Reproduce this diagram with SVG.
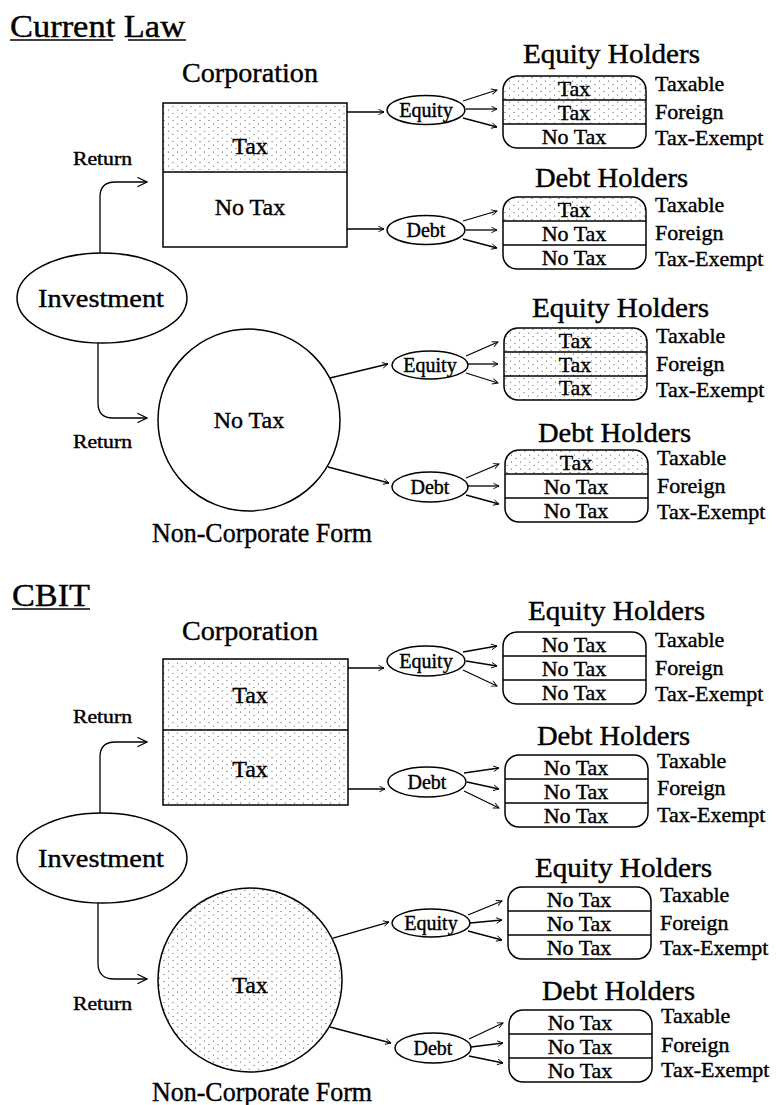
<svg xmlns="http://www.w3.org/2000/svg" width="778" height="1105" viewBox="0 0 778 1105">
<style>
text{font-family:"Liberation Serif","Times New Roman",serif;fill:#000;stroke:#000;stroke-width:0.4}
.ttl{font-size:31px}
.hdr{font-size:27px}
.big{font-size:24px;text-anchor:middle}
.inv{font-size:26px;text-anchor:middle}
.ret{font-size:18px}
.ov{font-size:20px;text-anchor:middle}
.row{font-size:22px;text-anchor:middle}
.lbl{font-size:22px}
.ln{fill:none;stroke:#000;stroke-width:1.3}
.sh{fill:url(#dots)}
.ol{fill:none;stroke:#000;stroke-width:1.5}
.wf{fill:#fff;stroke:#000;stroke-width:1.5}
</style>
<defs>
<pattern id="dots" width="9" height="7" patternUnits="userSpaceOnUse">
<rect width="9" height="7" fill="#fff"/>
<circle cx="2" cy="1.5" r="0.6" fill="#444"/>
<circle cx="6.5" cy="5" r="0.6" fill="#444"/>
</pattern>
<clipPath id="stk"><rect x="0" y="0" width="143" height="72" rx="14"/></clipPath>
<marker id="ah" viewBox="0 0 10 10" refX="9" refY="5" markerWidth="7" markerHeight="7" orient="auto" markerUnits="userSpaceOnUse"><path d="M1,1 L9,5 L1,9" fill="none" stroke="#000" stroke-width="1.3"/></marker>
<marker id="ahb" viewBox="0 0 10 10" refX="9" refY="5" markerWidth="12" markerHeight="12" orient="auto" markerUnits="userSpaceOnUse"><path d="M1,1 L9,5 L1,9" fill="none" stroke="#000" stroke-width="1"/></marker>
</defs>
<rect width="778" height="1105" fill="#fff"/>

<!-- ===== Current Law ===== -->
<g id="title-current">
<text class="ttl" x="10" y="37" textLength="175" lengthAdjust="spacingAndGlyphs">Current Law</text>
<line x1="10" y1="40" x2="113" y2="40" stroke="#000" stroke-width="1.5"/>
<line x1="128" y1="40" x2="186" y2="40" stroke="#000" stroke-width="1.5"/>
</g>
<g id="cl-corp">
<text class="hdr" x="250" y="82" text-anchor="middle" textLength="136" lengthAdjust="spacingAndGlyphs">Corporation</text>
<rect class="sh" x="163" y="103" width="184" height="69"/>
<rect class="ol" x="163" y="103" width="184" height="144"/>
<line x1="163" y1="172" x2="347" y2="172" stroke="#000" stroke-width="1.5"/>
<text class="big" x="250" y="154">Tax</text>
<text class="big" x="250" y="215">No Tax</text>
</g>
<g id="cl-invest">
<ellipse class="wf" cx="102" cy="298" rx="85" ry="45"/>
<text class="inv" x="101" y="307" textLength="126" lengthAdjust="spacingAndGlyphs">Investment</text>
</g>
<g id="cl-noncorp">
<circle class="wf" cx="249" cy="420" r="91"/>
<text class="big" x="249" y="428">No Tax</text>
<text class="hdr" x="262" y="542" text-anchor="middle" font-size="24" textLength="220" lengthAdjust="spacingAndGlyphs">Non-Corporate Form</text>
</g>

<!-- ===== CBIT ===== -->
<g id="title-cbit">
<text class="ttl" x="12" y="606" textLength="78" lengthAdjust="spacingAndGlyphs">CBIT</text>
<line x1="12" y1="609" x2="90" y2="609" stroke="#000" stroke-width="1.5"/>
</g>
<g id="cb-corp">
<text class="hdr" x="250" y="640" text-anchor="middle" textLength="136" lengthAdjust="spacingAndGlyphs">Corporation</text>
<rect class="sh" x="163" y="659" width="185" height="146"/>
<rect class="ol" x="163" y="659" width="185" height="146"/>
<line x1="163" y1="730" x2="348" y2="730" stroke="#000" stroke-width="1.5"/>
<text class="big" x="250" y="703">Tax</text>
<text class="big" x="250" y="777">Tax</text>
</g>
<g id="cb-invest">
<ellipse class="wf" cx="102" cy="858" rx="85" ry="45"/>
<text class="inv" x="101" y="867" textLength="126" lengthAdjust="spacingAndGlyphs">Investment</text>
</g>
<g id="cb-noncorp">
<circle class="sh" cx="250" cy="980" r="92"/>
<circle class="ol" cx="250" cy="980" r="92"/>
<text class="big" x="250" y="993">Tax</text>
<text class="hdr" x="262" y="1101" text-anchor="middle" font-size="24" textLength="220" lengthAdjust="spacingAndGlyphs">Non-Corporate Form</text>
</g>

<!-- ===== Holder groups ===== -->
<g id="cl-eq1">
<ellipse class="wf" cx="426" cy="110" rx="39" ry="14.5"/>
<text class="ov" x="426" y="117">Equity</text>
<text class="hdr" x="523" y="63" textLength="177" lengthAdjust="spacingAndGlyphs">Equity Holders</text>
<g transform="translate(503,76)">
<rect class="sh" x="0" y="0" width="143" height="24" clip-path="url(#stk)"/>
<rect class="sh" x="0" y="24" width="143" height="24" clip-path="url(#stk)"/>
<rect class="ol" x="0" y="0" width="143" height="72" rx="14"/>
<line x1="0" y1="24" x2="143" y2="24" stroke="#000" stroke-width="1.3"/>
<line x1="0" y1="48" x2="143" y2="48" stroke="#000" stroke-width="1.3"/>
<text class="row" x="71" y="20">Tax</text><text class="row" x="71" y="44">Tax</text><text class="row" x="71" y="68">No Tax</text>
<text class="lbl" x="152" y="15">Taxable</text><text class="lbl" x="152" y="43">Foreign</text><text class="lbl" x="152" y="69">Tax-Exempt</text>
</g>
</g>
<g id="cl-debt1">
<ellipse class="wf" cx="426" cy="230" rx="39" ry="14.5"/>
<text class="ov" x="426" y="237">Debt</text>
<text class="hdr" x="535" y="187" textLength="153" lengthAdjust="spacingAndGlyphs">Debt Holders</text>
<g transform="translate(503,197)">
<rect class="sh" x="0" y="0" width="143" height="24" clip-path="url(#stk)"/>
<rect class="ol" x="0" y="0" width="143" height="72" rx="14"/>
<line x1="0" y1="24" x2="143" y2="24" stroke="#000" stroke-width="1.3"/>
<line x1="0" y1="48" x2="143" y2="48" stroke="#000" stroke-width="1.3"/>
<text class="row" x="71" y="20">Tax</text><text class="row" x="71" y="44">No Tax</text><text class="row" x="71" y="68">No Tax</text>
<text class="lbl" x="152" y="15">Taxable</text><text class="lbl" x="152" y="43">Foreign</text><text class="lbl" x="152" y="69">Tax-Exempt</text>
</g>
</g>
<g id="cl-eq2">
<ellipse class="wf" cx="430" cy="365" rx="38" ry="14"/>
<text class="ov" x="430" y="372">Equity</text>
<text class="hdr" x="532" y="317" textLength="177" lengthAdjust="spacingAndGlyphs">Equity Holders</text>
<g transform="translate(504,328)">
<rect class="sh" x="0" y="0" width="143" height="72" clip-path="url(#stk)"/>
<rect class="ol" x="0" y="0" width="143" height="72" rx="14"/>
<line x1="0" y1="24" x2="143" y2="24" stroke="#000" stroke-width="1.3"/>
<line x1="0" y1="48" x2="143" y2="48" stroke="#000" stroke-width="1.3"/>
<text class="row" x="71" y="20">Tax</text><text class="row" x="71" y="44">Tax</text><text class="row" x="71" y="67">Tax</text>
<text class="lbl" x="152" y="15">Taxable</text><text class="lbl" x="152" y="43">Foreign</text><text class="lbl" x="152" y="69">Tax-Exempt</text>
</g>
</g>
<g id="cl-debt2">
<ellipse class="wf" cx="430" cy="487" rx="38" ry="15"/>
<text class="ov" x="430" y="494">Debt</text>
<text class="hdr" x="538" y="442" textLength="153" lengthAdjust="spacingAndGlyphs">Debt Holders</text>
<g transform="translate(505,450)">
<rect class="sh" x="0" y="0" width="143" height="24" clip-path="url(#stk)"/>
<rect class="ol" x="0" y="0" width="143" height="72" rx="14"/>
<line x1="0" y1="24" x2="143" y2="24" stroke="#000" stroke-width="1.3"/>
<line x1="0" y1="48" x2="143" y2="48" stroke="#000" stroke-width="1.3"/>
<text class="row" x="71" y="20">Tax</text><text class="row" x="71" y="44">No Tax</text><text class="row" x="71" y="68">No Tax</text>
<text class="lbl" x="152" y="15">Taxable</text><text class="lbl" x="152" y="43">Foreign</text><text class="lbl" x="152" y="69">Tax-Exempt</text>
</g>
</g>
<g id="cb-eq1">
<ellipse class="wf" cx="426" cy="661" rx="39" ry="15"/>
<text class="ov" x="426" y="668">Equity</text>
<text class="hdr" x="528" y="620" textLength="177" lengthAdjust="spacingAndGlyphs">Equity Holders</text>
<g transform="translate(503,632)">
<rect class="ol" x="0" y="0" width="143" height="72" rx="14"/>
<line x1="0" y1="24" x2="143" y2="24" stroke="#000" stroke-width="1.3"/>
<line x1="0" y1="48" x2="143" y2="48" stroke="#000" stroke-width="1.3"/>
<text class="row" x="71" y="20">No Tax</text><text class="row" x="71" y="44">No Tax</text><text class="row" x="71" y="68">No Tax</text>
<text class="lbl" x="152" y="15">Taxable</text><text class="lbl" x="152" y="43">Foreign</text><text class="lbl" x="152" y="69">Tax-Exempt</text>
</g>
</g>
<g id="cb-debt1">
<ellipse class="wf" cx="427" cy="782" rx="39" ry="15"/>
<text class="ov" x="427" y="789">Debt</text>
<text class="hdr" x="537" y="745" textLength="153" lengthAdjust="spacingAndGlyphs">Debt Holders</text>
<g transform="translate(505,755)">
<rect class="ol" x="0" y="0" width="143" height="72" rx="14"/>
<line x1="0" y1="24" x2="143" y2="24" stroke="#000" stroke-width="1.3"/>
<line x1="0" y1="48" x2="143" y2="48" stroke="#000" stroke-width="1.3"/>
<text class="row" x="71" y="20">No Tax</text><text class="row" x="71" y="44">No Tax</text><text class="row" x="71" y="68">No Tax</text>
<text class="lbl" x="152" y="13">Taxable</text><text class="lbl" x="152" y="40">Foreign</text><text class="lbl" x="152" y="67">Tax-Exempt</text>
</g>
</g>
<g id="cb-eq2">
<ellipse class="wf" cx="431" cy="923" rx="39" ry="14"/>
<text class="ov" x="431" y="930">Equity</text>
<text class="hdr" x="535" y="877" textLength="177" lengthAdjust="spacingAndGlyphs">Equity Holders</text>
<g transform="translate(508,887)">
<rect class="ol" x="0" y="0" width="143" height="72" rx="14"/>
<line x1="0" y1="24" x2="143" y2="24" stroke="#000" stroke-width="1.3"/>
<line x1="0" y1="48" x2="143" y2="48" stroke="#000" stroke-width="1.3"/>
<text class="row" x="71" y="20">No Tax</text><text class="row" x="71" y="44">No Tax</text><text class="row" x="71" y="68">No Tax</text>
<text class="lbl" x="152" y="15">Taxable</text><text class="lbl" x="152" y="43">Foreign</text><text class="lbl" x="152" y="68">Tax-Exempt</text>
</g>
</g>
<g id="cb-debt2">
<ellipse class="wf" cx="433" cy="1048" rx="38" ry="15"/>
<text class="ov" x="433" y="1055">Debt</text>
<text class="hdr" x="542" y="1000" textLength="153" lengthAdjust="spacingAndGlyphs">Debt Holders</text>
<g transform="translate(509,1010)">
<rect class="ol" x="0" y="0" width="143" height="72" rx="14"/>
<line x1="0" y1="24" x2="143" y2="24" stroke="#000" stroke-width="1.3"/>
<line x1="0" y1="48" x2="143" y2="48" stroke="#000" stroke-width="1.3"/>
<text class="row" x="71" y="20">No Tax</text><text class="row" x="71" y="44">No Tax</text><text class="row" x="71" y="68">No Tax</text>
<text class="lbl" x="152" y="13">Taxable</text><text class="lbl" x="152" y="42">Foreign</text><text class="lbl" x="152" y="67">Tax-Exempt</text>
</g>
</g>

<!-- ===== Connectors ===== -->
<g id="connectors">
<path class="ln" d="M100,253 V197 Q100,182 115,182 H147" marker-end="url(#ahb)"/>
<path class="ln" d="M98,343 V403 Q98,418 113,418 H147" marker-end="url(#ahb)"/>
<text class="ret" x="73" y="165" textLength="59" lengthAdjust="spacingAndGlyphs">Return</text>
<text class="ret" x="73" y="448" textLength="59" lengthAdjust="spacingAndGlyphs">Return</text>
<path class="ln" d="M347,112 H384" marker-end="url(#ah)"/>
<path class="ln" d="M347,229 H384" marker-end="url(#ah)"/>
<path class="ln" d="M330,378 L388,364" marker-end="url(#ah)"/>
<path class="ln" d="M328,467 L389,483" marker-end="url(#ah)"/>
<path class="ln" d="M463,101 L497,90" marker-end="url(#ah)"/>
<path class="ln" d="M466,109 L497,109" marker-end="url(#ah)"/>
<path class="ln" d="M463,118 L497,127" marker-end="url(#ah)"/>
<path class="ln" d="M463,221 L497,211" marker-end="url(#ah)"/>
<path class="ln" d="M466,230 L497,230" marker-end="url(#ah)"/>
<path class="ln" d="M463,239 L497,248" marker-end="url(#ah)"/>
<path class="ln" d="M466,356 L498,342" marker-end="url(#ah)"/>
<path class="ln" d="M468,364 L498,364" marker-end="url(#ah)"/>
<path class="ln" d="M466,373 L498,383" marker-end="url(#ah)"/>
<path class="ln" d="M466,478 L499,464" marker-end="url(#ah)"/>
<path class="ln" d="M468,486 L499,486" marker-end="url(#ah)"/>
<path class="ln" d="M466,495 L499,504" marker-end="url(#ah)"/>
<path class="ln" d="M100,813 V757 Q100,742 115,742 H147" marker-end="url(#ahb)"/>
<path class="ln" d="M98,903 V963 Q98,979 114,979 H147" marker-end="url(#ahb)"/>
<text class="ret" x="73" y="723" textLength="59" lengthAdjust="spacingAndGlyphs">Return</text>
<text class="ret" x="73" y="1010" textLength="59" lengthAdjust="spacingAndGlyphs">Return</text>
<path class="ln" d="M348,668 H384" marker-end="url(#ah)"/>
<path class="ln" d="M348,789 H385" marker-end="url(#ah)"/>
<path class="ln" d="M333,938 L389,922" marker-end="url(#ah)"/>
<path class="ln" d="M330,1027 L391,1043" marker-end="url(#ah)"/>
<path class="ln" d="M463,652 L497,646" marker-end="url(#ah)"/>
<path class="ln" d="M466,661 L497,666" marker-end="url(#ah)"/>
<path class="ln" d="M463,670 L497,686" marker-end="url(#ah)"/>
<path class="ln" d="M464,773 L499,768" marker-end="url(#ah)"/>
<path class="ln" d="M467,782 L499,789" marker-end="url(#ah)"/>
<path class="ln" d="M464,791 L499,808" marker-end="url(#ah)"/>
<path class="ln" d="M468,915 L502,901" marker-end="url(#ah)"/>
<path class="ln" d="M470,923 L502,920" marker-end="url(#ah)"/>
<path class="ln" d="M468,931 L502,940" marker-end="url(#ah)"/>
<path class="ln" d="M469,1039 L503,1023" marker-end="url(#ah)"/>
<path class="ln" d="M471,1047 L503,1043" marker-end="url(#ah)"/>
<path class="ln" d="M469,1056 L503,1063" marker-end="url(#ah)"/>
</g>
</svg>
